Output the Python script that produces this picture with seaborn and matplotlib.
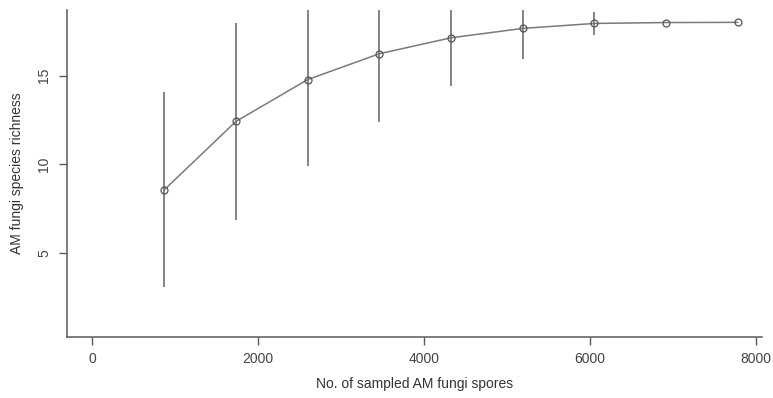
import numpy as np
import pandas as pd
import seaborn as sns
import matplotlib.pyplot as plt

# accumulation curve: sampled spores vs mean richness (+/- sd)
spores = [865, 1730, 2595, 3460, 4325, 5190, 6055, 6920, 7785]
richness = [8.55, 12.41, 14.77, 16.23, 17.13, 17.66, 17.94, 17.99, 18.0]
sd = [5.5, 5.58, 4.87, 3.85, 2.73, 1.72, 0.63, 0.0, 0.0]

xticks = [0, 2000, 4000, 6000, 8000]
yticks = [5, 10, 15]

df = pd.DataFrame({"spores": spores, "richness": richness, "sd": sd})

sns.set_style("ticks")
plt.rcParams["font.family"] = ["Liberation Sans", "DejaVu Sans"]

fig = plt.figure(figsize=(7.73, 3.98), dpi=100)
ax = fig.add_axes([0.0863, 0.153, 0.9, 0.822])

# error bars
ax.vlines(df["spores"], df["richness"] - df["sd"], df["richness"] + df["sd"],
          color="#6e6e6e", linewidth=1.2)

sns.lineplot(data=df, x="spores", y="richness", ax=ax, color="#7a7a7a",
             linewidth=1.1, marker="o", markersize=5, markerfacecolor="none",
             markeredgecolor="#555555", markeredgewidth=0.9)

ax.set_xlim(-310, 8080)
ax.set_ylim(0.25, 18.7)
ax.set_xticks(xticks)
ax.set_yticks(yticks)
ax.set_yticklabels([str(v) for v in yticks], rotation=90, va="center")

for s in ["top", "right"]:
    ax.spines[s].set_visible(False)
for s in ["left", "bottom"]:
    ax.spines[s].set_color("#5a5a5a")
    ax.spines[s].set_linewidth(1.1)

ax.tick_params(axis="both", length=6, width=1.0, color="#5a5a5a",
               labelsize=10, labelcolor="#444444", pad=5)

ax.set_xlabel("No. of sampled AM fungi spores", fontsize=10, color="#333333", labelpad=8)
ax.set_ylabel("AM fungi species richness", fontsize=10, color="#333333", labelpad=10)

fig.savefig("out.png", dpi=100)
